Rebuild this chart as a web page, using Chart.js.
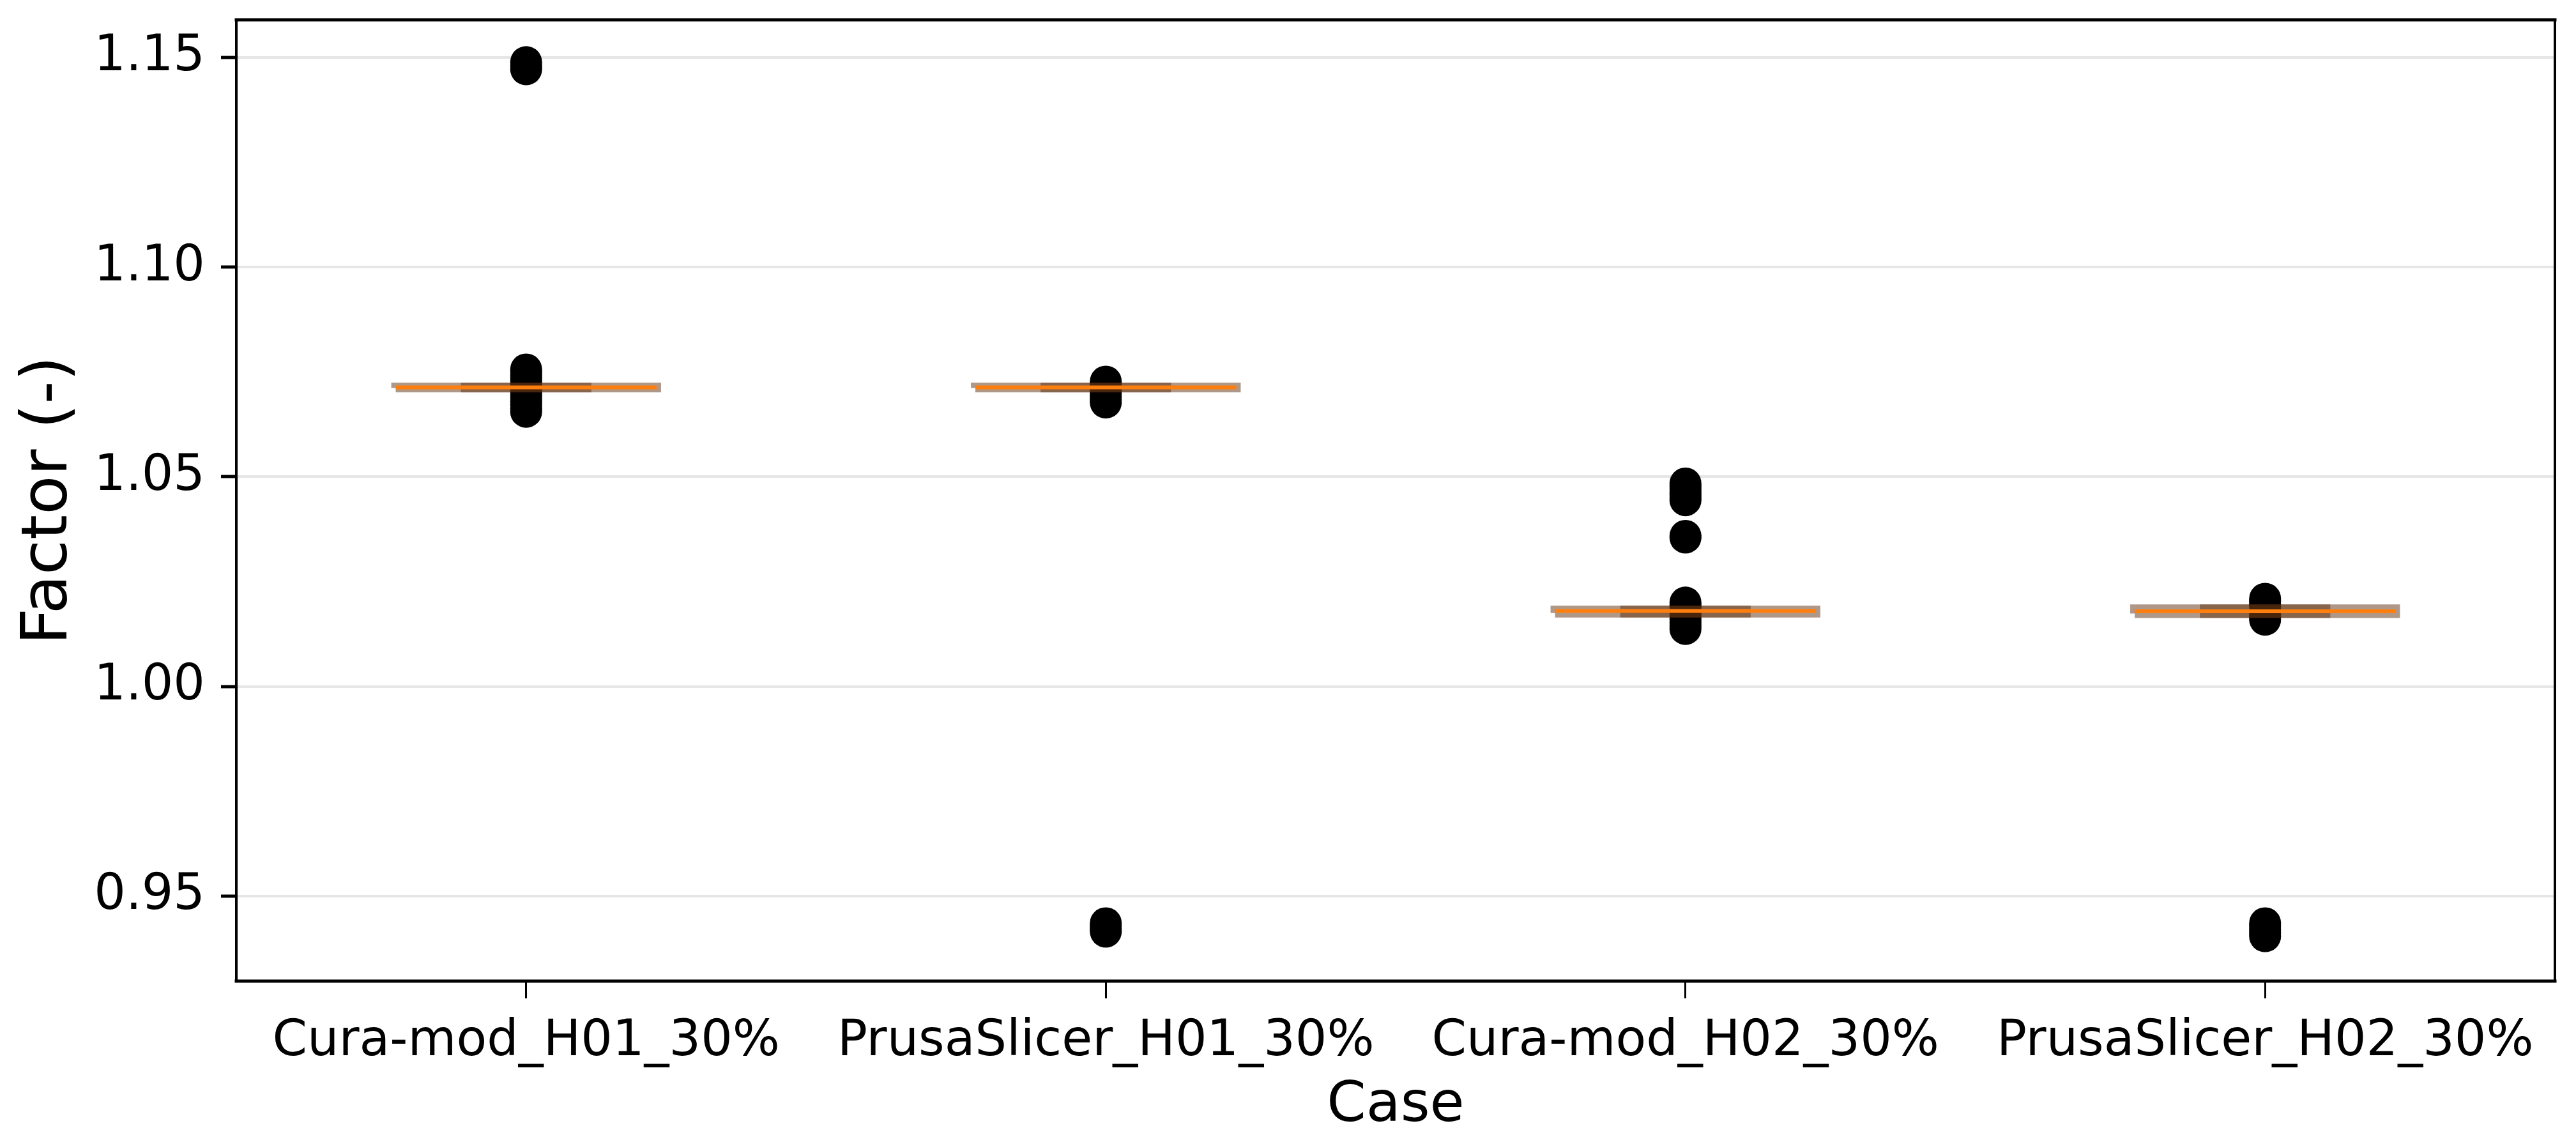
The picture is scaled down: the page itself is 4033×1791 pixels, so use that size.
<!DOCTYPE html>
<html lang="en">
<head>
  <meta charset="UTF-8">
  <title>Factor by Case</title>
  <script src="https://cdn.jsdelivr.net/npm/chart.js"></script>
  <style>
    html, body {
      margin: 0;
      padding: 0;
      background: #fff;
    }
    .chart-container {
      position: relative;
      width: 4033px;
      height: 1791px;
    }
  </style>
</head>
<body>
  <div class="chart-container">
    <canvas id="boxChart"></canvas>
  </div>

  <script>
    // Cases along the x axis (positions 1..4)
    const cases = ['Cura-mod_H01_30%', 'PrusaSlicer_H01_30%', 'Cura-mod_H02_30%', 'PrusaSlicer_H02_30%'];

    // Box statistics
    const medians = [1.0713, 1.0713, 1.0180, 1.0179];
    const q1s     = [1.0712, 1.0712, 1.0175, 1.0174];
    const q3s     = [1.0714, 1.0714, 1.0182, 1.0185];
    const capLow  = [1.0712, 1.0712, 1.0175, 1.0174];
    const capHigh = [1.0714, 1.0714, 1.0182, 1.0185];

    // Outliers (fliers) per case
    const fliers1 = [1.1489, 1.1480, 1.1472, 1.0756, 1.0750, 1.0743, 1.0736, 1.0729, 1.0722, 1.0716,
                     1.0709, 1.0702, 1.0695, 1.0688, 1.0680, 1.0672, 1.0663, 1.0655];
    const fliers2 = [1.0727, 1.0722, 1.0716, 1.0710, 1.0704, 1.0698, 1.0691, 1.0684, 1.0677,
                     0.9435, 0.9428, 0.9421, 0.9415];
    const fliers3 = [1.0484, 1.0477, 1.0470, 1.0463, 1.0457, 1.0450, 1.0444, 1.0359, 1.0355,
                     1.0200, 1.0194, 1.0188, 1.0176, 1.0168, 1.0160, 1.0152, 1.0145, 1.0137];
    const fliers4 = [1.0209, 1.0203, 1.0196, 1.0190, 1.0171, 1.0165, 1.0159,
                     0.9435, 0.9428, 0.9420, 0.9412, 0.9404];

    // Y axis
    const yMin = 0.9297;
    const yMax = 1.1590;
    const yTicks = [0.95, 1.00, 1.05, 1.10, 1.15];

    const boxHalf = 0.225;   // box width 0.45
    const capHalf = 0.1125;  // caps are half the box width

    // helpers: turn the stats into line segments in data space
    function horizontal(values, half) {
      const pts = [];
      values.forEach((v, i) => {
        const x = i + 1;
        pts.push({x: x - half, y: v}, {x: x + half, y: v}, {x: x + half + 0.01, y: null});
      });
      return pts;
    }

    function boxOutline() {
      const pts = [];
      cases.forEach((c, i) => {
        const x = i + 1;
        pts.push({x: x - boxHalf, y: q1s[i]}, {x: x + boxHalf, y: q1s[i]},
                 {x: x + boxHalf, y: q3s[i]}, {x: x - boxHalf, y: q3s[i]},
                 {x: x - boxHalf, y: q1s[i]}, {x: x + boxHalf + 0.01, y: null});
      });
      return pts;
    }

    function capSegments() {
      return horizontal(capLow, capHalf).concat(horizontal(capHigh, capHalf));
    }

    const allFliers = [fliers1, fliers2, fliers3, fliers4];
    const flierPoints = [];
    allFliers.forEach((list, i) => list.forEach(v => flierPoints.push({x: i + 1, y: v})));

    const bandColor = 'rgba(95, 50, 18, 0.5)';

    // frame around the plot area (top / right / left / bottom spines)
    const framePlugin = {
      id: 'frame',
      afterDraw(chart) {
        const {ctx, chartArea: a} = chart;
        ctx.save();
        ctx.strokeStyle = '#000';
        ctx.lineCap = 'square';
        ctx.lineWidth = 5;
        ctx.beginPath();
        ctx.moveTo(a.left, a.top); ctx.lineTo(a.right, a.top);
        ctx.moveTo(a.left, a.bottom); ctx.lineTo(a.right, a.bottom);
        ctx.stroke();
        ctx.lineWidth = 4;
        ctx.beginPath();
        ctx.moveTo(a.left, a.top); ctx.lineTo(a.left, a.bottom);
        ctx.moveTo(a.right, a.top); ctx.lineTo(a.right, a.bottom);
        ctx.stroke();
        ctx.restore();
      }
    };

    const config = {
      type: 'scatter',
      data: {
        datasets: [
          {
            label: 'fliers',
            data: flierPoints,
            pointRadius: 25,
            pointHoverRadius: 25,
            pointBackgroundColor: '#000',
            pointBorderWidth: 0,
            showLine: false,
            order: 3
          },
          {
            label: 'box',
            data: boxOutline(),
            showLine: true,
            spanGaps: false,
            borderColor: bandColor,
            borderWidth: 14,
            pointRadius: 0,
            order: 2
          },
          {
            label: 'caps',
            data: capSegments(),
            showLine: true,
            spanGaps: false,
            borderColor: bandColor,
            borderWidth: 14,
            pointRadius: 0,
            order: 1
          },
          {
            label: 'median',
            data: horizontal(medians, boxHalf),
            showLine: true,
            spanGaps: false,
            borderColor: '#ff7f0e',
            borderWidth: 6,
            borderCapStyle: 'butt',
            pointRadius: 0,
            order: 0
          }
        ]
      },
      options: {
        responsive: true,
        maintainAspectRatio: false,
        devicePixelRatio: 1,
        animation: false,
        layout: {
          padding: {left: 0, top: 31, right: 33, bottom: 0}
        },
        plugins: {
          legend: {display: false},
          tooltip: {enabled: false}
        },
        scales: {
          x: {
            type: 'linear',
            min: 0.5,
            max: 4.5,
            afterFit(scale) {
              scale.height = 255;
              scale.paddingLeft = 0;
              scale.paddingRight = 0;
            },
            afterBuildTicks(scale) {
              scale.ticks = cases.map((c, i) => ({value: i + 1}));
            },
            border: {display: false},
            grid: {
              drawOnChartArea: false,
              tickLength: 27,
              tickWidth: 3,
              tickColor: '#000'
            },
            ticks: {
              autoSkip: false,
              maxRotation: 0,
              padding: 22,
              color: '#000',
              font: {family: 'DejaVu Sans', size: 78},
              callback: value => cases[Math.round(value) - 1]
            },
            title: {
              display: true,
              text: 'Case',
              color: '#000',
              font: {family: 'DejaVu Sans', size: 88},
              padding: {top: 0, bottom: 6}
            }
          },
          y: {
            min: yMin,
            max: yMax,
            afterFit(scale) {
              scale.width = 370;
              scale.paddingTop = 0;
              scale.paddingBottom = 0;
            },
            afterBuildTicks(scale) {
              scale.ticks = yTicks.map(v => ({value: v}));
            },
            border: {display: false},
            grid: {
              color: '#e6e6e6',
              lineWidth: 4,
              tickLength: 24,
              tickWidth: 5,
              tickColor: '#000'
            },
            ticks: {
              padding: 25,
              color: '#000',
              font: {family: 'DejaVu Sans', size: 78},
              callback: value => value.toFixed(2)
            },
            title: {
              display: true,
              text: 'Factor (-)',
              color: '#000',
              font: {family: 'DejaVu Sans', size: 100},
              padding: {top: 18, bottom: 0}
            }
          }
        }
      },
      plugins: [framePlugin]
    };

    const ctx = document.getElementById('boxChart').getContext('2d');
    const chart = new Chart(ctx, config);
  </script>
</body>
</html>
